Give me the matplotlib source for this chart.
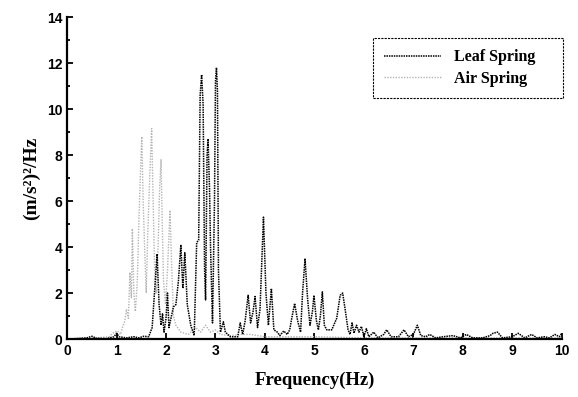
import numpy as np
import matplotlib
matplotlib.use("Agg")
import matplotlib.pyplot as plt
from matplotlib.ticker import MultipleLocator

# Leaf spring PSD
leaf_f = [0.0, 0.2, 0.4, 0.5, 0.6, 0.8, 0.95, 1.0, 1.05, 1.2, 1.35, 1.45, 1.55, 1.65,
          1.72, 1.78, 1.82, 1.86, 1.9, 1.93, 1.96, 2.0, 2.03, 2.06, 2.1, 2.15, 2.2,
          2.25, 2.3, 2.34, 2.38, 2.43, 2.5, 2.57, 2.62, 2.66, 2.69, 2.72, 2.75, 2.78,
          2.8, 2.83, 2.85, 2.88, 2.9, 2.94, 2.98, 3.0, 3.02, 3.04, 3.06, 3.1, 3.16,
          3.2, 3.3, 3.45, 3.5, 3.55, 3.6, 3.66,
          3.71, 3.76, 3.8, 3.85, 3.9, 3.97, 4.02, 4.07, 4.13, 4.18, 4.25, 4.3, 4.38,
          4.45, 4.5, 4.55, 4.6, 4.66, 4.72, 4.76, 4.81, 4.86, 4.91, 4.96, 4.99, 5.04,
          5.08, 5.12, 5.16, 5.2, 5.25, 5.35, 5.45, 5.52, 5.57, 5.62, 5.68, 5.72, 5.76,
          5.8, 5.85, 5.9, 5.95, 6.0, 6.05, 6.1, 6.2, 6.28, 6.4, 6.46, 6.55, 6.7, 6.81,
          6.9, 7.0, 7.08, 7.15, 7.25, 7.33, 7.45, 7.6, 7.8, 7.95, 8.07, 8.2, 8.4, 8.55,
          8.61, 8.7, 8.8, 9.0, 9.12, 9.25, 9.39, 9.5, 9.65, 9.75, 9.86, 9.95, 10.0]
leaf_v = [0.0, 0.02, 0.05, 0.12, 0.03, 0.02, 0.1, 0.25, 0.1, 0.05, 0.1, 0.05, 0.12, 0.1,
          0.5, 2.4, 3.7, 1.5, 0.6, 1.1, 0.3, 0.9, 2.0, 0.5, 0.9, 1.4, 1.5,
          2.5, 4.1, 2.2, 3.75, 1.5, 0.6, 0.15, 4.2, 4.3, 10.6, 11.5, 10.2, 3.0,
          1.7, 8.0, 8.7, 6.5, 4.0, 0.7, 6.0, 11.2, 11.8, 10.8, 3.0, 0.3, 0.75,
          0.3, 0.1, 0.1, 0.7, 0.2, 0.8, 1.9,
          0.7, 1.2, 1.85, 0.5, 1.3, 5.3, 2.0, 0.6, 2.2, 0.4, 0.3, 0.15, 0.35,
          0.2, 0.4, 1.0, 1.55, 0.8, 0.3, 2.0, 3.5, 1.8, 0.6, 1.2, 1.9, 0.8,
          0.4, 1.0, 2.05, 0.6, 0.4, 0.4, 0.9, 1.9, 2.0, 1.3, 0.4, 0.2, 0.7,
          0.25, 0.6, 0.3, 0.55, 0.1, 0.45, 0.1, 0.3, 0.05, 0.2, 0.4, 0.1, 0.1, 0.4,
          0.1, 0.2, 0.6, 0.15, 0.1, 0.2, 0.05, 0.1, 0.15, 0.05, 0.2, 0.05, 0.05, 0.15,
          0.25, 0.3, 0.05, 0.1, 0.25, 0.05, 0.2, 0.05, 0.1, 0.05, 0.2, 0.1, 0.25]

# Air spring PSD
air_f = [0.0, 0.3, 0.6, 0.85, 0.95, 1.02, 1.08, 1.12, 1.17, 1.2, 1.24, 1.27, 1.3, 1.32,
         1.35, 1.38, 1.42, 1.45, 1.48, 1.51, 1.54, 1.57, 1.6, 1.63, 1.67, 1.71, 1.74,
         1.77, 1.8, 1.84, 1.87, 1.9, 1.92, 1.95, 1.99, 2.03, 2.06, 2.08, 2.11, 2.15,
         2.2, 2.3, 2.45, 2.6, 2.7, 2.8, 2.9, 3.0, 3.1, 3.3, 3.5, 3.7, 4.0, 4.5, 5.0,
         6.0, 7.0, 8.0, 9.0, 10.0]
air_v = [0.0, 0.03, 0.05, 0.1, 0.3, 0.35, 0.2, 0.5, 0.8, 1.3, 0.9, 2.9, 1.8, 4.8,
         2.0, 1.2, 2.5, 5.0, 7.0, 8.8, 5.9, 3.8, 2.0, 4.5, 7.0, 9.15, 6.0,
         3.0, 2.0, 4.0, 6.5, 7.8, 5.5, 2.5, 1.5, 3.0, 4.5, 5.6, 3.5, 1.0,
         0.6, 0.3, 0.2, 0.5, 0.3, 0.6, 0.3, 0.4, 0.2, 0.15, 0.2, 0.2, 0.1, 0.1, 0.1,
         0.05, 0.05, 0.05, 0.05, 0.05]

serif = "Liberation Serif"
sans = "Liberation Sans"

fig = plt.figure(figsize=(5.78, 3.97), dpi=100)
ax = fig.add_axes([0.116, 0.146, 0.856, 0.811])

ax.plot(air_f, air_v, color="#b4b4b4", lw=1.0, ls=(0, (1, 1)), label="Air Spring")
ax.plot(leaf_f, leaf_v, color="black", lw=1.1, ls=(0, (1, 0.6)), label="Leaf Spring")

ax.set_xlim(0, 10)
ax.set_ylim(0, 14)
ax.xaxis.set_major_locator(MultipleLocator(1))
ax.yaxis.set_major_locator(MultipleLocator(2))
ax.yaxis.set_minor_locator(MultipleLocator(1))
ax.tick_params(which="both", direction="in", width=1.3)
ax.tick_params(which="major", length=4)
ax.tick_params(which="minor", length=2.5)
for s in ["top", "right"]:
    ax.spines[s].set_visible(False)
for s in ["left", "bottom"]:
    ax.spines[s].set_linewidth(1.6)

for lab in ax.get_xticklabels() + ax.get_yticklabels():
    lab.set_fontfamily(sans)
    lab.set_fontweight("bold")
    lab.set_fontsize(10)

ax.set_xlabel("Frequency(Hz)", fontfamily=serif, fontweight="bold", fontsize=13.5, labelpad=10)
ax.set_ylabel("(m/s²)²/Hz", fontfamily=serif, fontweight="bold", fontsize=14, labelpad=5)

h, l = ax.get_legend_handles_labels()
leg = ax.legend(h[::-1], l[::-1], loc="upper left", bbox_to_anchor=(0.618, 0.935, 0.384, 0.0),
                mode="expand",
                prop={"family": serif, "weight": "bold", "size": 11.5},
                fancybox=False, edgecolor="black", framealpha=1,
                handlelength=3.6, borderpad=0.7, labelspacing=0.35, borderaxespad=0.0)
leg.get_frame().set_linewidth(0.8)
leg.get_frame().set_linestyle((0, (2, 1)))

fig.savefig("out.png", dpi=100)
